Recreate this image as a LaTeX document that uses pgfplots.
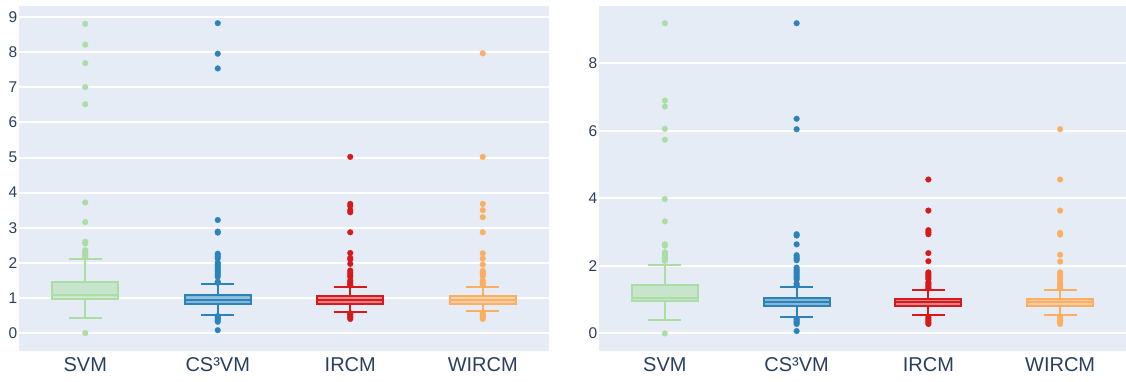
\documentclass[border=0pt]{standalone}
\usepackage{pgfplots}
\pgfplotsset{compat=1.18}
\usepgfplotslibrary{statistics}
\usepackage{fontspec}
\setmainfont{Liberation Sans}
\definecolor{bgc}{HTML}{E5ECF6}
\definecolor{txt}{HTML}{2A3F5F}
\definecolor{cG}{RGB}{171,221,164}
\definecolor{cB}{RGB}{43,131,186}
\definecolor{cR}{RGB}{215,25,28}
\definecolor{cO}{RGB}{253,174,97}
\pgfplotsset{
  panel/.style={
    scale only axis, height=345pt,
    xmin=-0.5, xmax=3.5,
    axis background/.style={fill=bgc},
    axis line style={draw=none},
    ymajorgrids, major grid style={white, line width=2pt},
    xtick={0,1,2,3}, xticklabels={SVM,CS³VM,IRCM,WIRCM},
    major tick length=0pt, tick style={draw=none},
    /pgf/number format/assume math mode=true,
    ticklabel style={text=txt},
    xticklabel style={font=\fontsize{20}{20}\selectfont, inner sep=0pt, yshift=-6pt},
    yticklabel style={font=\fontsize{15.5}{16}\selectfont, inner sep=0pt, xshift=-1.5pt},
    boxplot/draw direction=y,
  },
  bx/.style={boxplot prepared={#1, box extend=0.5, whisker extend=0.25}, line width=2pt, solid, fill opacity=0.5, draw opacity=1},
  out/.style={only marks, color=#1, mark=*, mark size=2.9pt, mark options={solid, line width=0.2pt, draw=#1, fill=#1}},
}
\begin{document}
\begin{tikzpicture}
\path[use as bounding box] (0,0) rectangle (1126pt,381pt);
% ---------------- left panel ----------------
\begin{axis}[panel, at={(19pt,30pt)}, anchor=south west, width=530pt,
  ymin=-0.514, ymax=9.32, ytick={0,1,...,9}]
\addplot[bx={draw position=0, lower whisker=0.44, lower quartile=0.98, median=1.075, upper quartile=1.46, upper whisker=2.12}, draw=cG, fill=cG] coordinates {};
\addplot[out=cG] coordinates {(0,8.81) (0,8.22) (0,7.69) (0,7.01) (0,6.52) (0,3.72) (0,3.16) (0,2.60) (0,2.55) (0,2.36) (0,2.31) (0,2.26) (0,2.22) (0,2.18) (0,0.0)};
\addplot[bx={draw position=1, lower whisker=0.51, lower quartile=0.82, median=0.95, upper quartile=1.075, upper whisker=1.40}, draw=cB, fill=cB] coordinates {};
\addplot[out=cB] coordinates {(1,8.83) (1,7.96) (1,7.54) (1,3.22) (1,2.89) (1,2.86) (1,2.26) (1,2.22) (1,2.17) (1,2.12) (1,2.00) (1,1.95) (1,1.90) (1,1.85) (1,1.80) (1,1.75) (1,1.70) (1,1.65) (1,1.60) (1,1.46) (1,1.43) (1,0.48) (1,0.44) (1,0.40) (1,0.36) (1,0.32) (1,0.08)};
\addplot[bx={draw position=2, lower whisker=0.60, lower quartile=0.84, median=0.95, upper quartile=1.05, upper whisker=1.30}, draw=cR, fill=cR] coordinates {};
\addplot[out=cR] coordinates {(2,5.02) (2,3.68) (2,3.62) (2,3.50) (2,3.44) (2,2.87) (2,2.28) (2,2.14) (2,2.10) (2,1.97) (2,1.78) (2,1.72) (2,1.66) (2,1.60) (2,1.50) (2,1.45) (2,1.40) (2,1.36) (2,0.56) (2,0.52) (2,0.48) (2,0.44) (2,0.40)};
\addplot[bx={draw position=3, lower whisker=0.62, lower quartile=0.84, median=0.95, upper quartile=1.05, upper whisker=1.30}, draw=cO, fill=cO] coordinates {};
\addplot[out=cO] coordinates {(3,7.97) (3,5.02) (3,3.68) (3,3.50) (3,3.30) (3,2.87) (3,2.27) (3,2.12) (3,1.95) (3,1.77) (3,1.72) (3,1.67) (3,1.62) (3,1.50) (3,1.45) (3,1.40) (3,1.36) (3,0.56) (3,0.52) (3,0.48) (3,0.44) (3,0.40)};
\end{axis}
% ---------------- right panel ----------------
\begin{axis}[panel, at={(599pt,30pt)}, anchor=south west, width=527pt,
  ymin=-0.52, ymax=9.70, ytick={0,2,4,6,8}]
\addplot[bx={draw position=0, lower whisker=0.41, lower quartile=0.97, median=1.05, upper quartile=1.44, upper whisker=2.04}, draw=cG, fill=cG] coordinates {};
\addplot[out=cG] coordinates {(0,9.19) (0,6.90) (0,6.72) (0,6.06) (0,5.74) (0,3.98) (0,3.32) (0,2.64) (0,2.60) (0,2.40) (0,2.35) (0,2.30) (0,2.25) (0,2.20) (0,2.15) (0,0.0)};
\addplot[bx={draw position=1, lower whisker=0.49, lower quartile=0.80, median=0.92, upper quartile=1.04, upper whisker=1.37}, draw=cB, fill=cB] coordinates {};
\addplot[out=cB] coordinates {(1,9.19) (1,6.36) (1,6.05) (1,2.94) (1,2.90) (1,2.64) (1,2.32) (1,2.27) (1,2.22) (1,2.17) (1,1.95) (1,1.90) (1,1.85) (1,1.80) (1,1.75) (1,1.70) (1,1.65) (1,1.60) (1,1.48) (1,1.42) (1,0.44) (1,0.40) (1,0.36) (1,0.32) (1,0.28) (1,0.07)};
\addplot[bx={draw position=2, lower whisker=0.54, lower quartile=0.81, median=0.92, upper quartile=1.02, upper whisker=1.29}, draw=cR, fill=cR] coordinates {};
\addplot[out=cR] coordinates {(2,4.56) (2,3.64) (2,3.06) (2,3.00) (2,2.94) (2,2.38) (2,2.14) (2,1.81) (2,1.76) (2,1.71) (2,1.66) (2,1.61) (2,1.52) (2,1.47) (2,1.42) (2,1.37) (2,1.33) (2,0.48) (2,0.43) (2,0.38) (2,0.33) (2,0.28)};
\addplot[bx={draw position=3, lower whisker=0.55, lower quartile=0.81, median=0.92, upper quartile=1.02, upper whisker=1.29}, draw=cO, fill=cO] coordinates {};
\addplot[out=cO] coordinates {(3,6.05) (3,4.56) (3,3.64) (3,2.98) (3,2.93) (3,2.33) (3,2.13) (3,1.81) (3,1.76) (3,1.71) (3,1.66) (3,1.61) (3,1.52) (3,1.47) (3,1.42) (3,1.37) (3,1.33) (3,0.48) (3,0.43) (3,0.38) (3,0.33) (3,0.28)};
\end{axis}
\end{tikzpicture}
\end{document}
